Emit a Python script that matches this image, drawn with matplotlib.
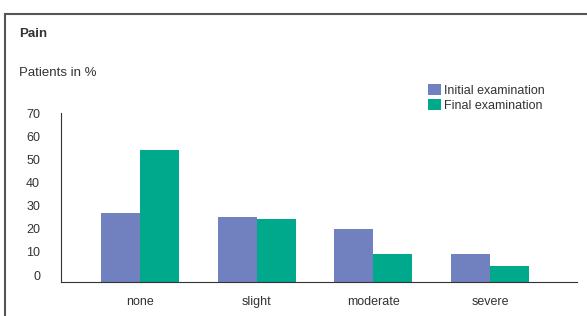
import numpy as np
import matplotlib
matplotlib.use('Agg')
import matplotlib.pyplot as plt
from matplotlib.lines import Line2D

categories = ['none', 'slight', 'moderate', 'severe']
initial = [27, 25, 20, 9]
final = [54, 24, 9, 4]
yticks = [0, 10, 20, 30, 40, 50, 60, 70]

plt.rcParams['font.family'] = ['Liberation Sans', 'DejaVu Sans']
txt = '#333333'

fig = plt.figure(figsize=(5.87, 3.16), dpi=100)
ax = fig.add_axes([61/587, 1-282/316, (577-61)/587, (282-113)/316])

ymin = -3
x = np.arange(len(categories))
w = 1/3
ax.bar(x - w/2, np.array(initial) - ymin, w, bottom=ymin, color='#7181BF', label='Initial examination')
ax.bar(x + w/2, np.array(final) - ymin, w, bottom=ymin, color='#00A88C', label='Final examination')

ax.set_ylim(ymin, 68.6)
ax.set_xlim(-0.677, 3.745)
ax.set_yticks(yticks)
ax.set_xticks(x, categories)
ax.tick_params(axis='y', length=0, pad=15, labelsize=9, labelcolor=txt)
ax.tick_params(axis='x', length=0, pad=10, labelsize=9, labelcolor=txt)
for s in ['top', 'right']:
    ax.spines[s].set_visible(False)
ax.spines['left'].set_color('#333333')
ax.spines['bottom'].set_color('#333333')

ax.legend(loc='upper left', bbox_to_anchor=(428/587, 1-84/316), bbox_transform=fig.transFigure,
          frameon=False, fontsize=9, handlelength=1.0, handleheight=0.95, handletextpad=0.3,
          labelspacing=0.2, borderpad=0, borderaxespad=0, labelcolor=txt)

fig.text(19/587, 1-34/316, 'Pain', fontsize=9.5, fontweight='bold', color=txt, va='center')
fig.text(19/587, 1-73/316, 'Patients in %', fontsize=9.5, color=txt, va='center')

# frame
fig.add_artist(Line2D([4.5/587, 4.5/587], [0, 1-14/316], color='#555555', lw=1.5))
fig.add_artist(Line2D([4.5/587, 1], [1-14/316, 1-14/316], color='#555555', lw=1.5))

fig.savefig('out.png', dpi=100)
